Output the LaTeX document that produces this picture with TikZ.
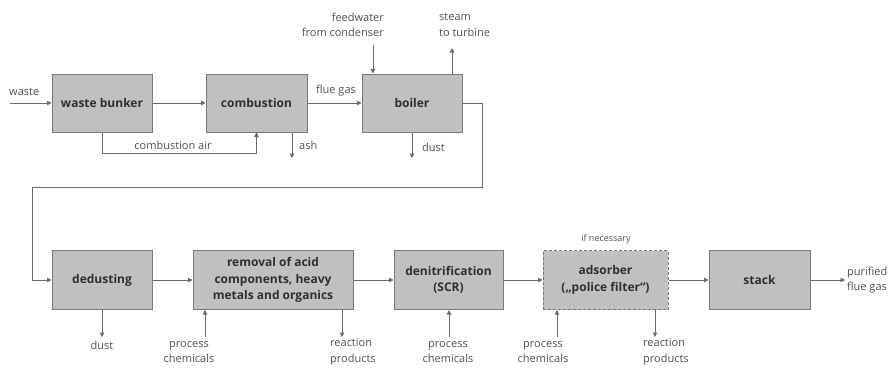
\documentclass[tikz,border=0pt]{standalone}
\usepackage{fontspec}
\setmainfont{Open Sans}
\usetikzlibrary{arrows.meta,calc}
\definecolor{boxfill}{HTML}{C0C0C0}
\definecolor{boxline}{HTML}{7A7A7A}
\definecolor{flowline}{HTML}{6A6A6A}
\definecolor{boxtext}{HTML}{303030}
\definecolor{labeltext}{HTML}{505050}
\begin{document}
\begin{tikzpicture}[x=1pt,y=-1pt,
  unit/.style={draw=boxline,fill=boxfill,line width=1pt,inner sep=0pt,
    minimum height=58pt,align=center,text=boxtext,
    font=\fontsize{12}{16.6}\selectfont\bfseries},
  optunit/.style={unit,dashed,dash pattern=on 3pt off 2pt},
  flow/.style={draw=flowline,line width=0.9pt,-{Triangle[length=4.5pt,width=4.5pt]}},
  lbl/.style={inner sep=0pt,text=labeltext,font=\fontsize{11}{15.5}\selectfont}]
\useasboundingbox (0,0) rectangle (891,367);

% first row: combustion and heat recovery
\node[unit,minimum width=100pt] (bunker) at (102,103) {waste bunker};
\node[unit,minimum width=101pt] (comb) at (256.5,103) {combustion};
\node[unit,minimum width=100pt] (boiler) at (412,103) {boiler};

% second row: flue gas cleaning
\node[unit,minimum width=100pt,minimum height=59pt] (dedust) at (102,280) {dedusting};
\node[unit,minimum width=160pt,minimum height=59pt] (acid) at (273,280) {removal of acid\\components, heavy\\metals and organics};
\node[unit,minimum width=109pt,minimum height=59pt] (denox) at (448.5,280) {denitrification\\(SCR)};
\node[optunit,minimum width=125pt,minimum height=59pt] (adsorb) at (605.5,280) {adsorber\\(„police filter“)};
\node[unit,minimum width=101pt,minimum height=59pt] (stack) at (759.5,280) {stack};

% free ends of the streams
\coordinate (wastein) at (10,103);
\coordinate (ashout) at (292,158);
\coordinate (fwin) at (373,45);
\coordinate (steamout) at (452,48);
\coordinate (dust1) at (412,158);
\coordinate (dust2) at (102,337);
\coordinate (chem1) at (205,337);
\coordinate (prod1) at (342,337);
\coordinate (chem2) at (449,337);
\coordinate (chem3) at (557,337);
\coordinate (prod2) at (655,337);
\coordinate (cleanout) at (845,280);

% main gas path
\draw[flow] (wastein) -- (bunker.west);
\draw[flow] (bunker.east) -- (comb.west);
\draw[flow] (bunker.south) -- ++(0,21) -| (comb.south);
\draw[flow] (comb.east) -- (boiler.west);
\draw[flow] (boiler.east) -- (482,103) -- (482,187) -- (32,187) |- (dedust.west);
\draw[flow] (dedust.east) -- (acid.west);
\draw[flow] (acid.east) -- (denox.west);
\draw[flow] (denox.east) -- (adsorb.west);
\draw[flow] (adsorb.east) -- (stack.west);
\draw[flow] (stack.east) -- (cleanout);

% side streams
\draw[flow] (comb.south -| ashout) -- (ashout);
\draw[flow] (fwin) -- (fwin |- boiler.north);
\draw[flow] (steamout |- boiler.north) -- (steamout);
\draw[flow] (boiler.south -| dust1) -- (dust1);
\draw[flow] (dedust.south -| dust2) -- (dust2);
\draw[flow] (chem1) -- (chem1 |- acid.south);
\draw[flow] (acid.south -| prod1) -- (prod1);
\draw[flow] (chem2) -- (chem2 |- denox.south);
\draw[flow] (chem3) -- (chem3 |- adsorb.south);
\draw[flow] (adsorb.south -| prod2) -- (prod2);

% stream labels
\node[lbl,anchor=west] (lwaste) at (9,92) {waste};
\node[lbl] (lair) at (173,145) {combustion air};
\node[lbl,anchor=west] (lash) at (299,145) {ash};
\node[lbl,anchor=west] (lflue) at (316,91) {flue gas};
\node[lbl,align=right,anchor=east] (lfw) at (384,25) {feedwater\\from condenser};
\node[lbl,align=left,anchor=west] (lsteam) at (439,25) {steam\\to turbine};
\node[lbl,anchor=west] (ldust1) at (422,147) {dust};
\node[lbl] (ldust2) at (102,345) {dust};
\node[lbl,align=center] (lchem1) at (189,352) {process\\chemicals};
\node[lbl,align=left,anchor=west] (lprod1) at (330,352) {reaction\\products};
\node[lbl,align=center] (lchem2) at (448,352) {process\\chemicals};
\node[lbl,align=center] (lchem3) at (543,352) {process\\chemicals};
\node[lbl,align=left,anchor=west] (lprod2) at (643,352) {reaction\\products};
\node[lbl,font=\fontsize{9}{10}\selectfont] (lneed) at (606,239) {if necessary};
\node[lbl,align=left,anchor=west] (lclean) at (847,280) {purified\\flue gas};
\end{tikzpicture}
\end{document}
